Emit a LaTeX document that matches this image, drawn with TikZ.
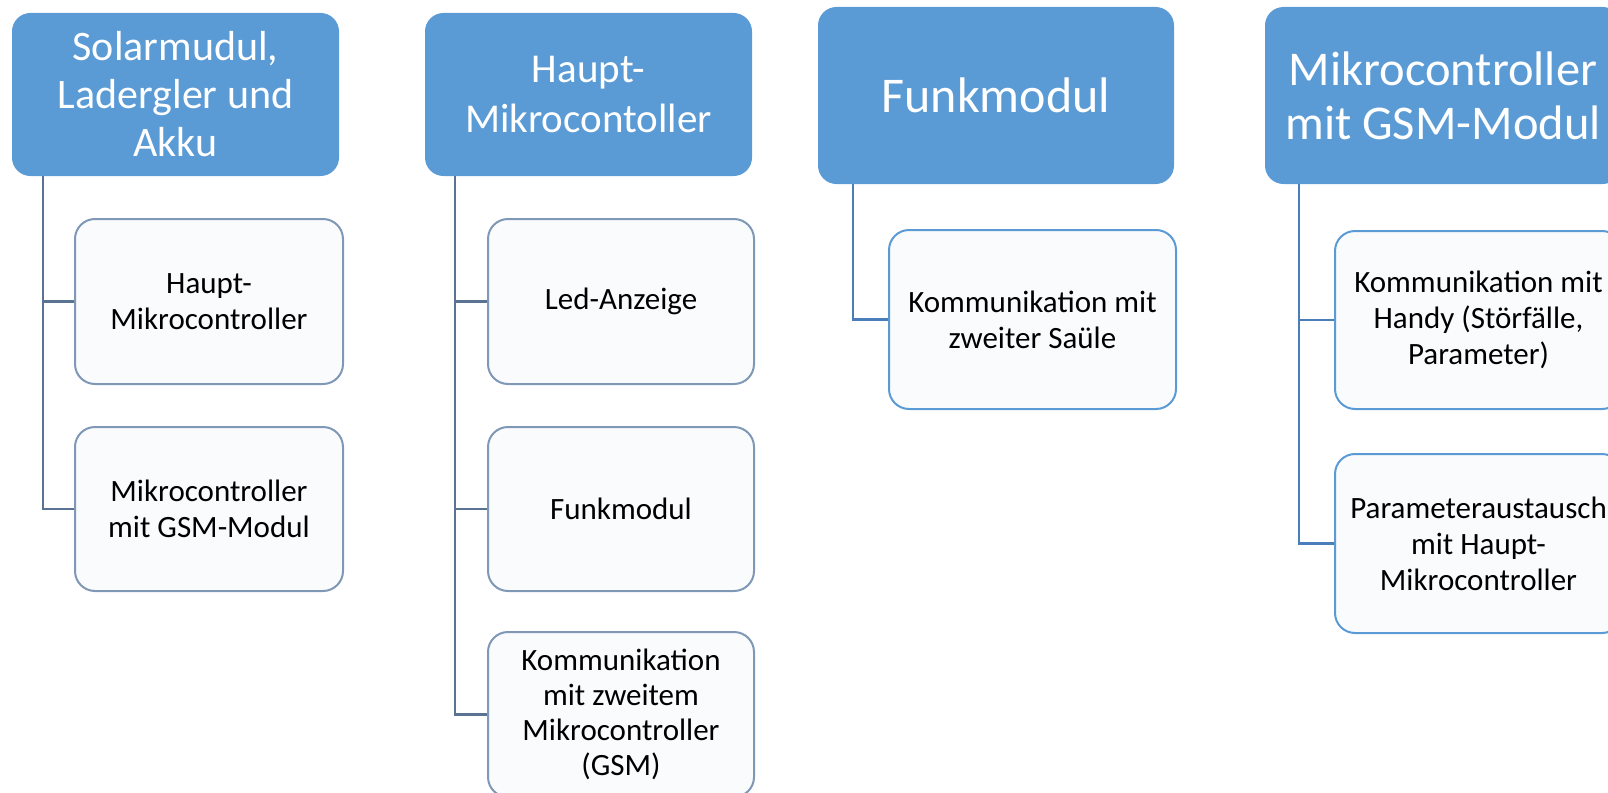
\documentclass[tikz,border=0pt]{standalone}
\usepackage{fontspec}
\setmainfont{Carlito}
\definecolor{headblue}{HTML}{5B9BD5}
\definecolor{childborderA}{HTML}{7E98B6}
\definecolor{childborderB}{HTML}{5B9BD5}
\definecolor{lineA}{HTML}{5A7392}
\definecolor{lineB}{HTML}{4A7EBB}
\definecolor{childfill}{HTML}{FAFBFD}
\tikzset{
  headbox/.style={draw=headblue, fill=headblue, rounded corners=18pt, anchor=north west,
    text=white, align=center, inner sep=0pt, line width=1pt},
  childbox/.style={fill=childfill, rounded corners=20pt, anchor=north west,
    text=black, align=center, inner sep=0pt, line width=2pt},
  childA/.style={childbox, draw=childborderA},
  childB/.style={childbox, draw=childborderB},
  connA/.style={draw=lineA, line width=2.2pt},
  connB/.style={draw=lineB, line width=2.2pt},
  fs/.style 2 args={font=\fontsize{#1}{#2}\selectfont},
}
\begin{document}
\begin{tikzpicture}[x=1pt,y=-1pt]
\useasboundingbox (0,0) rectangle (1608,792);
\clip (0,0) rectangle (1608,792);
% Column 1
\node[headbox, fs={42}{48}, minimum width=326pt, minimum height=162pt] (h1) at (12,13)
  {Solarmudul,\\Ladergler und\\Akku};
\node[childA, fs={31}{36}, minimum width=268pt, minimum height=165pt] (c11) at (74,218)
  {Haupt-\\Mikrocontroller};
\node[childA, fs={31}{36}, minimum width=268pt, minimum height=164pt] (c12) at (74,426)
  {Mikrocontroller\\mit GSM-Modul};
\coordinate (l1) at (43,0);
\draw[connA] (h1.south -| l1) |- (c11.west);
\draw[connA] (h1.south -| l1) |- (c12.west);
% Column 2
\node[headbox, fs={41}{50}, minimum width=326pt, minimum height=162pt] (h2) at (425,13)
  {Haupt-\\Mikrocontoller};
\node[childA, fs={31}{36}, minimum width=266pt, minimum height=165pt] (c21) at (487,218)
  {Led-Anzeige};
\node[childA, fs={31}{36}, minimum width=266pt, minimum height=164pt] (c22) at (487,426)
  {Funkmodul};
\node[childA, fs={31}{35}, minimum width=266pt, minimum height=165pt] (c23) at (487,631)
  {Kommunikation\\mit zweitem\\Mikrocontroller\\(GSM)};
\coordinate (l2) at (455,0);
\draw[connA] (h2.south -| l2) |- (c21.west);
\draw[connA] (h2.south -| l2) |- (c22.west);
\draw[connA] (h2.south -| l2) |- (c23.west);
% Column 3
\node[headbox, fs={50}{56}, minimum width=355pt, minimum height=176pt] (h3) at (818,7)
  {Funkmodul};
\node[childB, fs={31}{36}, minimum width=287pt, minimum height=179pt] (c31) at (888,229)
  {Kommunikation mit\\zweiter Saüle};
\coordinate (l3) at (853,0);
\draw[connB] (h3.south -| l3) |- (c31.west);
% Column 4
\node[headbox, fs={48.5}{54}, minimum width=355pt, minimum height=176pt] (h4) at (1265,7)
  {Mikrocontroller\\mit GSM-Modul};
\node[childB, fs={31}{36}, minimum width=287pt, minimum height=178pt] (c41) at (1334,230)
  {Kommunikation mit\\Handy (Störfälle,\\Parameter)};
\node[childB, fs={31}{36}, minimum width=287pt, minimum height=179pt] (c42) at (1334,453)
  {Parameteraustausch\\mit Haupt-\\Mikrocontroller};
\coordinate (l4) at (1299,0);
\draw[connB] (h4.south -| l4) |- (c41.west);
\draw[connB] (h4.south -| l4) |- (c42.west);
\end{tikzpicture}
\end{document}
